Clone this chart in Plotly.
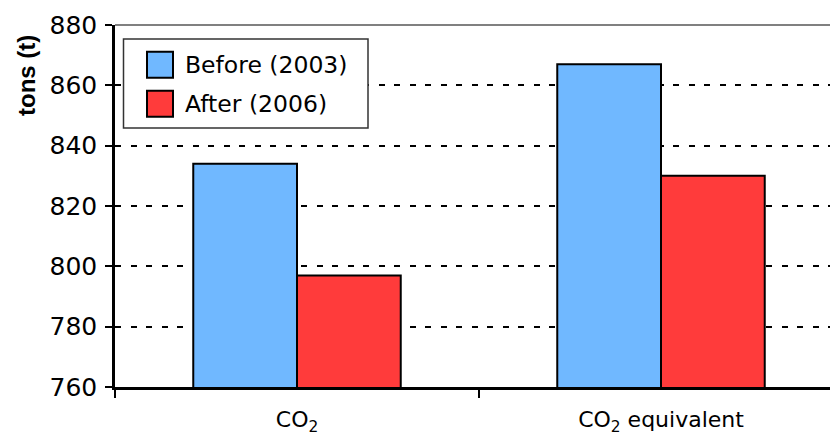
import plotly.graph_objects as go

# Emission totals per category, in tons
categories = ["CO<sub>2</sub>", "CO<sub>2</sub> equivalent"]
series_names = ["Before (2003)", "After (2006)"]
before_2003 = [834, 867]
after_2006 = [797, 830]
series_values = [before_2003, after_2006]
series_colors = ["#70B8FF", "#FF3B3B"]
y_ticks = [760, 780, 800, 820, 840, 860, 880]

W, H = 830, 437
ML, MR, MT, MB = 115, 0, 25, 50
PW, PH = W - ML - MR, H - MT - MB


def px_x(px):
    return (px - ML) / PW


def px_y(py):
    return (H - MB - py) / PH


fig = go.Figure()
for name, vals, col in zip(series_names, series_values, series_colors):
    fig.add_trace(go.Bar(
        x=categories, y=vals, name=name,
        marker=dict(color=col, line=dict(color="black", width=2)),
        showlegend=False,
    ))

fig.update_layout(
    width=W, height=H,
    margin=dict(l=ML, r=MR, t=MT, b=MB),
    paper_bgcolor="white", plot_bgcolor="white",
    barmode="group", bargap=0.43, bargroupgap=0,
    font=dict(family="DejaVu Sans", color="black"),
)

fig.update_xaxes(
    range=[-0.5, -0.5 + PW / 364],
    showline=True, linecolor="black", linewidth=2.5,
    ticks="outside", tickson="boundaries", ticklen=8, tickwidth=2, tickcolor="black",
    tickfont=dict(family="DejaVu Sans", size=22, color="black"),
    ticklabelstandoff=11,
    showgrid=False,
)
fig.update_yaxes(
    range=[760, 880], tickvals=y_ticks,
    showline=True, linecolor="black", linewidth=2.5,
    ticks="outside", ticklen=7, tickwidth=2, tickcolor="black",
    tickfont=dict(family="DejaVu Sans", size=25, color="black"),
    ticklabelstandoff=3,
    showgrid=True, gridcolor="black", gridwidth=2, griddash="6px,9.5px",
    zeroline=False,
)

shapes = [
    # plot-area top border
    dict(type="line", xref="paper", yref="paper", x0=0, x1=1, y0=1, y1=1,
         line=dict(color="#808080", width=2), layer="above"),
    # legend frame
    dict(type="rect", xref="paper", yref="paper",
         x0=px_x(123.5), x1=px_x(368), y0=px_y(128), y1=px_y(39),
         line=dict(color="#333333", width=1.5), fillcolor="white", layer="above"),
]
annotations = [
    dict(text="<b>tons (t)</b>", textangle=-90, xref="paper", yref="paper",
         x=px_x(26), y=px_y(76), xanchor="center", yanchor="middle",
         showarrow=False, font=dict(family="Liberation Sans", size=24, color="black")),
]

# legend entries
row_centers = [64.7, 103.7]
for name, col, cy in zip(series_names, series_colors, row_centers):
    shapes.append(dict(type="rect", xref="paper", yref="paper",
                       x0=px_x(147), x1=px_x(173), y0=px_y(cy + 13), y1=px_y(cy - 13),
                       line=dict(color="black", width=2), fillcolor=col, layer="above"))
    annotations.append(dict(text=name, xref="paper", yref="paper",
                            x=px_x(183), y=px_y(cy), xanchor="left", yanchor="middle",
                            showarrow=False,
                            font=dict(family="DejaVu Sans", size=23.5, color="black")))

fig.update_layout(shapes=shapes, annotations=annotations)

fig.write_html("out.html")
